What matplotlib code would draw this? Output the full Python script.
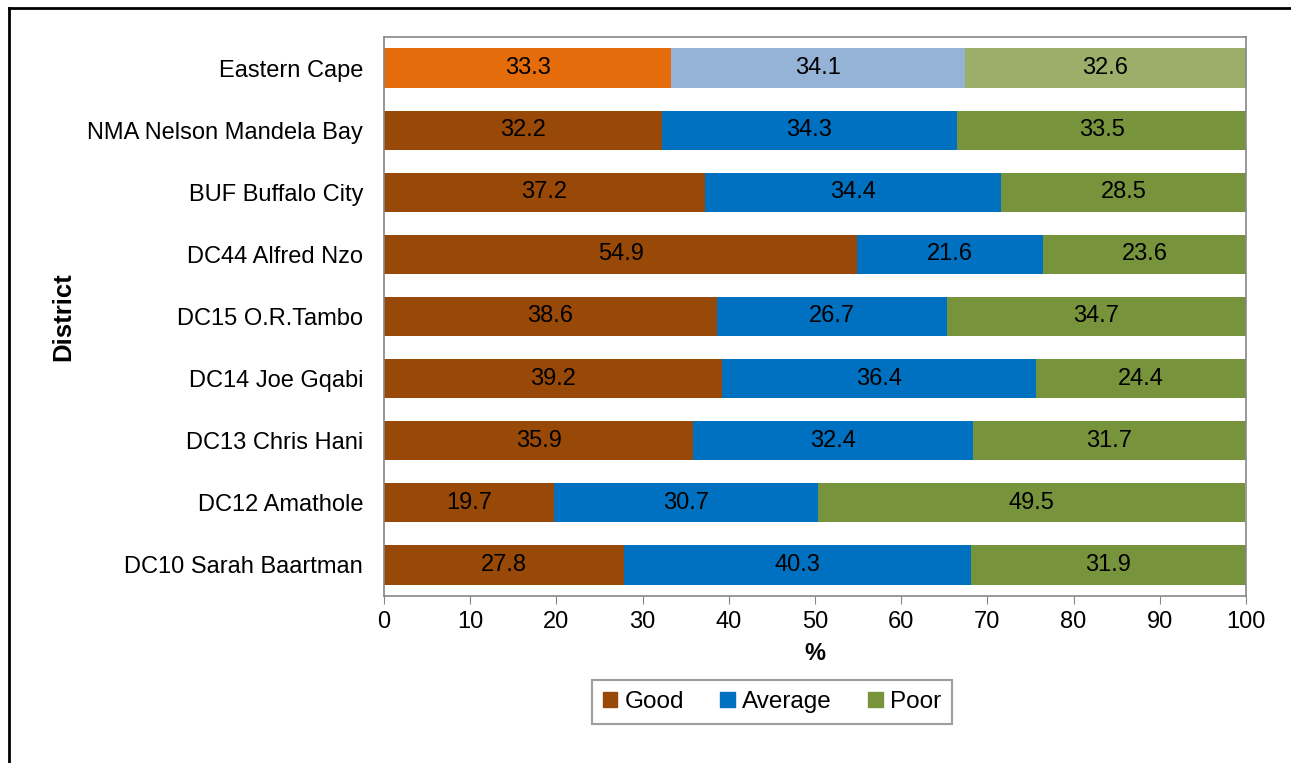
import matplotlib
matplotlib.use('Agg')
import matplotlib.pyplot as plt
from matplotlib.lines import Line2D
from matplotlib.patches import Patch

plt.rcParams['font.family'] = ['Liberation Sans', 'DejaVu Sans']

# Data (top to bottom as shown)
districts = ['Eastern Cape', 'NMA Nelson Mandela Bay', 'BUF Buffalo City',
             'DC44 Alfred Nzo', 'DC15 O.R.Tambo', 'DC14 Joe Gqabi',
             'DC13 Chris Hani', 'DC12 Amathole', 'DC10 Sarah Baartman']
good = [33.3, 32.2, 37.2, 54.9, 38.6, 39.2, 35.9, 19.7, 27.8]
average = [34.1, 34.3, 34.4, 21.6, 26.7, 36.4, 32.4, 30.7, 40.3]
poor = [32.6, 33.5, 28.5, 23.6, 34.7, 24.4, 31.7, 49.5, 31.9]

good_col = ['#E46C0A'] + ['#984807'] * 8
avg_col = ['#95B3D7'] + ['#0070C0'] * 8
poor_col = ['#9BAF6B'] + ['#77933C'] * 8

FS = 17

W, H = 1291, 763
fig = plt.figure(figsize=(W / 100, H / 100), dpi=100)
ax = fig.add_axes([384 / W, 1 - 596 / H, (1246 - 384) / W, (596 - 37) / H])

y = list(range(len(districts)))[::-1]
bh = 0.63
b1 = ax.barh(y, good, height=bh, color=good_col)
b2 = ax.barh(y, average, left=good, height=bh, color=avg_col)
left3 = [g + a for g, a in zip(good, average)]
b3 = ax.barh(y, poor, left=left3, height=bh, color=poor_col)

for bars, vals in [(b1, good), (b2, average), (b3, poor)]:
    ax.bar_label(bars, labels=[f'{v:.1f}' for v in vals], label_type='center',
                 fontsize=FS, color='black')

ax.set_xlim(0, 100)
ax.set_ylim(-0.5, len(districts) - 0.5)
ax.set_xticks(range(0, 101, 10))
ax.set_yticks(y)
ax.set_yticklabels(districts)
ax.tick_params(axis='x', labelsize=FS, length=6, color='#868686', pad=5)
ax.tick_params(axis='y', labelsize=FS, length=0, pad=15)
for side in ['left', 'bottom', 'top', 'right']:
    ax.spines[side].set_color('#868686')
    ax.spines[side].set_linewidth(1.2)

ax.set_xlabel('%', fontsize=FS, fontweight='bold', labelpad=6)
ax.set_ylabel('District', fontsize=18.5, fontweight='bold', labelpad=9)

handles = [Patch(color='#984807', label='Good'),
           Patch(color='#0070C0', label='Average'),
           Patch(color='#77933C', label='Poor')]
leg = fig.legend(handles=handles, loc='center', bbox_to_anchor=(772 / W, 1 - 702 / H),
                 ncol=3, fontsize=17.5, frameon=True, fancybox=False,
                 handlelength=0.6, handleheight=0.6, handletextpad=0.3,
                 columnspacing=1.5, borderpad=0.45, borderaxespad=0)
leg.get_frame().set_edgecolor('#868686')
leg.get_frame().set_linewidth(1.5)

# outer frame of the figure box (cropped at right/bottom)
fig.add_artist(Line2D([9 / W, 9 / W], [0, 1 - 8 / H], color='black', lw=2,
                      transform=fig.transFigure))
fig.add_artist(Line2D([9 / W, 1], [1 - 8 / H, 1 - 8 / H], color='black', lw=2,
                      transform=fig.transFigure))

fig.savefig('out.png', dpi=100)
